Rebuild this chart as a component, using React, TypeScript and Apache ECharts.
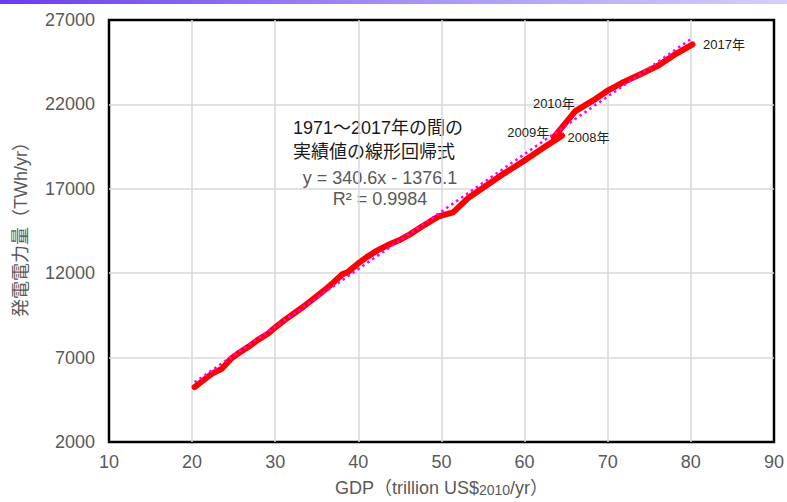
import { useEffect, useRef } from "react";
import * as echarts from "echarts";

// World GDP (trillion US$, 2010 prices) and electricity generation (TWh), 1971–2017
const years = [
  1971, 1972, 1973, 1974, 1975, 1976, 1977, 1978, 1979, 1980,
  1981, 1982, 1983, 1984, 1985, 1986, 1987, 1988, 1989, 1990,
  1991, 1992, 1993, 1994, 1995, 1996, 1997, 1998, 1999, 2000,
  2001, 2002, 2003, 2004, 2005, 2006, 2007, 2008, 2009, 2010,
  2011, 2012, 2013, 2014, 2015, 2016, 2017,
];
const gdp = [
  20.3, 21.2, 22.4, 23.0, 23.6, 24.7, 25.7, 26.8, 27.9, 28.4,
  28.9, 29.2, 29.9, 31.2, 32.2, 33.2, 34.4, 35.8, 37.0, 38.1,
  38.7, 39.3, 39.9, 41.0, 42.3, 43.7, 45.1, 46.2, 47.6, 49.6,
  50.5, 51.4, 53.2, 55.4, 57.5, 59.9, 62.3, 64.5, 63.5, 66.1,
  68.3, 70.1, 72.0, 74.0, 75.9, 77.9, 80.2,
];
const generation = [
  5250, 5600, 6050, 6200, 6350, 6950, 7300, 7650, 8050, 8200,
  8350, 8450, 8750, 9250, 9600, 9950, 10400, 10950, 11450, 11950,
  12050, 12300, 12550, 12950, 13350, 13700, 14000, 14300, 14750, 15350,
  15480, 15600, 16450, 17200, 17900, 18650, 19450, 20150, 20050, 21600,
  22250, 22850, 23350, 23800, 24250, 24900, 25550,
];

// Axis ticks
const xTicks = [10, 20, 30, 40, 50, 60, 70, 80, 90];
const yTicks = [2000, 7000, 12000, 17000, 22000, 27000];

// Linear regression over 1971–2017
const trendSlope = 340.6;
const trendIntercept = -1376.1;
const trendR2 = 0.9984;

const labelledYears = [2008, 2009, 2010, 2017];

const FONT = '"Liberation Sans", Arial, "Noto Sans CJK JP", sans-serif';
const GRAY = "#595959";

export default function App() {
  const ref = useRef<HTMLDivElement>(null);

  useEffect(() => {
    document.body.style.margin = "0";
    if (!ref.current) return;
    const chart = echarts.init(ref.current, undefined, { renderer: "svg" });

    const yearLabelStyle: Record<number, any> = {
      2008: { position: "right", distance: 5, offset: [0, 2] },
      2009: { position: "left", distance: 4, offset: [0, -5] },
      2010: { position: "left", distance: 2, offset: [2, -8] },
      2017: { position: "right", distance: 10, offset: [0, 0] },
    };

    const seriesData = years.map((yr, i) => {
      const item: any = { value: [gdp[i], generation[i]] };
      if (labelledYears.includes(yr)) {
        item.label = {
          show: true,
          formatter: `${yr}年`,
          color: "#222",
          fontSize: 13,
          fontFamily: FONT,
          ...yearLabelStyle[yr],
        };
      }
      return item;
    });

    const xMin = Math.min(...gdp);
    const xMax = Math.max(...gdp);
    const trendData = [
      [xMin, trendSlope * xMin + trendIntercept],
      [xMax, trendSlope * xMax + trendIntercept],
    ];

    const eq = `y = ${trendSlope}x - ${Math.abs(trendIntercept)}`;
    const r2 = `R² = ${trendR2}`;

    const gridLine = {
      show: true,
      showMinLine: false,
      showMaxLine: false,
      lineStyle: { color: "#d9d9d9", width: 1.5 },
    };

    chart.setOption({
      animation: false,
      backgroundColor: "#ffffff",
      grid: {
        left: 109,
        right: 13,
        top: 20,
        bottom: 59,
        show: true,
        borderColor: "#000000",
        borderWidth: 2.5,
        backgroundColor: "transparent",
      },
      xAxis: {
        type: "value",
        min: xTicks[0],
        max: xTicks[xTicks.length - 1],
        interval: 10,
        axisLine: { show: false },
        axisTick: { show: false },
        axisLabel: {
          color: GRAY,
          fontSize: 18,
          fontFamily: FONT,
          margin: 11,
          formatter: (v: number) => String(v),
        },
        splitLine: gridLine,
        name: "{a|GDP（trillion US$}{s|2010}{a|/yr）}",
        nameLocation: "middle",
        nameGap: 37,
        nameTextStyle: {
          rich: {
            a: { color: GRAY, fontSize: 18, fontFamily: FONT },
            s: { color: GRAY, fontSize: 14, fontFamily: FONT, padding: [4, 0, 0, 0] },
          },
        },
      },
      yAxis: {
        type: "value",
        min: yTicks[0],
        max: yTicks[yTicks.length - 1],
        axisLine: { show: false },
        axisTick: { show: false, customValues: yTicks },
        axisLabel: {
          color: GRAY,
          fontSize: 18,
          fontFamily: FONT,
          margin: 14,
          customValues: yTicks,
          formatter: (v: number) => String(v),
        },
        splitLine: gridLine,
      },
      graphic: [
        {
          type: "rect",
          left: 0,
          top: 0,
          shape: { width: 787, height: 4 },
          style: {
            fill: new echarts.graphic.LinearGradient(0, 0, 1, 0, [
              { offset: 0, color: "#6a3cef" },
              { offset: 0.5, color: "#a58ff5" },
              { offset: 1, color: "#d6cffb" },
            ]),
          },
          silent: true,
        },
        {
          type: "text",
          x: 21,
          y: 225,
          rotation: Math.PI / 2,
          style: {
            text: "発電電力量（TWh/yr）",
            fill: GRAY,
            font: `18px ${FONT}`,
            textAlign: "center",
            textVerticalAlign: "middle",
          },
        },
        {
          type: "text",
          left: 293,
          top: 116,
          style: {
            text: "1971～2017年の間の\n実績値の線形回帰式",
            fill: "#1a1a1a",
            font: `18px ${FONT}`,
            lineHeight: 24,
          },
        },
        {
          type: "text",
          x: 380,
          y: 178,
          style: {
            text: eq,
            fill: GRAY,
            font: `18px ${FONT}`,
            textAlign: "center",
            textVerticalAlign: "middle",
          },
        },
        {
          type: "text",
          x: 380,
          y: 199,
          style: {
            text: r2,
            fill: GRAY,
            font: `18px ${FONT}`,
            textAlign: "center",
            textVerticalAlign: "middle",
          },
        },
      ],
      series: [
        {
          name: "発電電力量",
          type: "line",
          data: seriesData,
          symbol: "circle",
          symbolSize: 1,
          showSymbol: true,
          itemStyle: { color: "#ff0000" },
          label: { show: false },
          lineStyle: { color: "#ff0000", width: 6, cap: "round", join: "round" },
          z: 2,
        },
        {
          name: "線形回帰",
          type: "line",
          data: trendData,
          symbol: "none",
          lineStyle: { color: "#ff00ff", width: 2.5, type: [2.5, 3.5] },
          z: 3,
        },
      ],
    });

    return () => chart.dispose();
  }, []);

  return <div ref={ref} style={{ width: 787, height: 502 }} />;
}
